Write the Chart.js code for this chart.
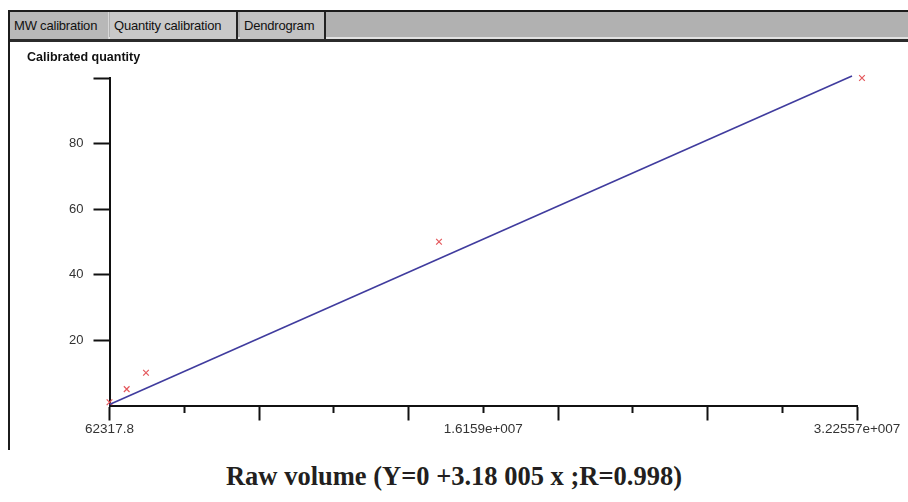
<!DOCTYPE html>
<html>
<head>
<meta charset="utf-8">
<script src="https://cdn.jsdelivr.net/npm/chart.js@4.4.1/dist/chart.umd.min.js"></script>
<style>
  body { margin: 0; background: #fff; width: 908px; height: 502px; position: relative; overflow: hidden; font-family: "Liberation Sans", Arial, sans-serif; }
  .tabbar { position: absolute; left: 8px; top: 10px; width: 900px; height: 25px; background: #b1b1b1; border-top: 2px solid #1c1c1c; border-bottom: 2px solid #e2e2e2; }
  .tabline { position: absolute; left: 8px; top: 39px; width: 900px; height: 3px; background: #2b2b2b; }
  .tab { position: absolute; top: 0; height: 27px; line-height: 27px; font-size: 13px; letter-spacing: -0.2px; color: #111; padding-left: 4px; box-sizing: border-box; }
  .frame { position: absolute; left: 8px; top: 10px; width: 2px; height: 440px; background: #1c1c1c; }
  #wrap { position: absolute; left: 10px; top: 42px; width: 898px; height: 408px; }
  .caption { position: absolute; left: 0; top: 461px; width: 908px; text-align: center; font-family: "Liberation Serif", "DejaVu Serif", serif; font-weight: bold; font-size: 26.5px; color: #231f20; }
</style>
</head>
<body>
<div class="tabbar">
  <div class="tab" style="left:2px;width:99px;background:#b8b8b8;border-right:1px solid #d8d8d8;">MW calibration</div>
  <div class="tab" style="left:102px;width:128px;background:#c9c9c9;border-right:2px solid #222;">Quantity calibration</div>
  <div class="tab" style="left:232px;width:86px;background:#c2c2c2;border-right:2px solid #222;">Dendrogram</div>
</div>
<div class="tabline"></div>
<div class="frame"></div>
<div id="wrap"><canvas id="grafico"></canvas></div>
<div class="caption">Raw volume (Y=0 +3.18 005 x ;R=0.998)</div>

<script>
// puntos de calibracion (volumen crudo vs cantidad)
const calX = [62317.8, 803000, 1634000, 14253000, 32470000];
const calY = [1, 5, 10, 50, 100];

// recta ajustada
const fitX = [62317.8, 32040000];
const fitY = [0.3, 100.6];

const xMin = 62317.8;
const xMax = 32255700;
const xTickLabels = ['62317.8', '', '', '', '', '1.6159e+007', '', '', '', '', '3.22557e+007'];
const yTicks = [0, 20, 40, 60, 80, 100];
const yTickLabels = ['', '20', '40', '60', '80', ''];

const fuente = '"Liberation Sans", Arial, sans-serif';

const puntos = calX.map((x, i) => ({ x: x, y: calY[i] }));
const recta = fitX.map((x, i) => ({ x: x, y: fitY[i] }));

const config = {
    type: 'scatter',
    data: {
        datasets: [
            {
                type: 'line',
                data: recta,
                borderColor: '#403c9e',
                borderWidth: 1.6,
                pointRadius: 0,
                clip: false
            },
            {
                data: puntos,
                pointStyle: 'crossRot',
                pointRadius: 4,
                borderColor: '#e4585c',
                borderWidth: 1.2,
                clip: false
            }
        ]
    },
    options: {
        responsive: true,
        maintainAspectRatio: false,
        animation: false,
        layout: { padding: { left: 17, right: 51, top: 0, bottom: 0 } },
        plugins: {
            legend: { display: false },
            tooltip: { enabled: false },
            title: {
                display: true,
                text: 'Calibrated quantity',
                align: 'start',
                color: '#111',
                font: { family: fuente, size: 12.5, weight: 'bold', lineHeight: 1.2 },
                padding: { top: 8, bottom: 13 }
            }
        },
        scales: {
            x: {
                type: 'linear',
                min: xMin,
                max: xMax,
                afterBuildTicks: (scale) => {
                    scale.ticks = xTickLabels.map((_, i) => ({ value: xMin + i * (xMax - xMin) / (xTickLabels.length - 1) }));
                },
                afterFit: (scale) => { scale.height = 44.5; },
                border: { display: true, color: '#111', width: 2 },
                grid: {
                    drawOnChartArea: false,
                    drawTicks: true,
                    tickLength: 15,
                    tickWidth: 2,
                    tickColor: '#111',
                    tickBorderDash: (ctx) => (ctx.index % 2 ? [6, 30] : [])
                },
                ticks: {
                    autoSkip: false,
                    maxRotation: 0,
                    padding: 1,
                    color: '#333',
                    font: { family: fuente, size: 13.5 },
                    callback: (v, i) => xTickLabels[i]
                }
            },
            y: {
                min: 0,
                max: 100,
                afterBuildTicks: (scale) => {
                    scale.ticks = yTicks.map((v) => ({ value: v }));
                },
                afterFit: (scale) => { scale.width = 82.5; },
                border: { display: true, color: '#111', width: 2 },
                grid: {
                    drawOnChartArea: false,
                    drawTicks: true,
                    tickLength: 16,
                    tickWidth: 2,
                    tickColor: (ctx) => (ctx.tick && ctx.tick.value === 0 ? 'rgba(0,0,0,0)' : '#111')
                },
                ticks: {
                    padding: 10,
                    color: '#333',
                    font: { family: fuente, size: 13 },
                    callback: (v, i) => yTickLabels[i]
                }
            }
        }
    }
};

new Chart(document.querySelector('#grafico'), config);
</script>
</body>
</html>
